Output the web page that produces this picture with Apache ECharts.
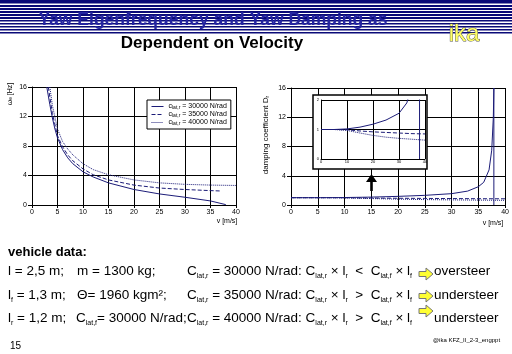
<!DOCTYPE html>
<html>
<head>
<meta charset="utf-8">
<script src="https://cdn.jsdelivr.net/npm/echarts@6/dist/echarts.min.js"></script>
<style>
  html, body { margin: 0; padding: 0; background: #fff; }
  #main { width: 512px; height: 354px; }
</style>
</head>
<body>
<div id="main"></div>
<script>
// yaw eigenfrequency over velocity (left chart)
var freqV30 = [2.9, 3.5, 4, 4.5, 5, 6, 7, 8, 10, 12, 15, 20, 25, 30, 35, 38];
var freq30 = [16, 13.6, 11.8, 10.3, 9.1, 7.5, 6.4, 5.6, 4.5, 3.8, 3.0, 2.1, 1.5, 1.05, 0.55, 0.05];
var freqV35 = [3.2, 4, 5, 6, 7, 8, 10, 12, 15, 20, 25, 30, 35, 37];
var freq35 = [16, 12.4, 9.4, 7.9, 6.8, 6.0, 4.9, 4.1, 3.4, 2.7, 2.3, 2.1, 1.95, 1.9];
var freqV40 = [3.5, 4, 5, 6, 7, 8, 10, 12, 15, 20, 25, 30, 35, 40];
var freq40 = [16, 13.5, 10.3, 8.6, 7.6, 6.8, 5.6, 4.8, 4.1, 3.4, 3.0, 2.8, 2.7, 2.65];

// yaw damping over velocity (right chart + inset)
var dampV30 = [0, 5, 10, 15, 20, 25, 30, 33, 35, 36, 37, 37.5, 37.8, 37.9, 37.9];
var damp30 = [1, 1, 1.02, 1.08, 1.18, 1.32, 1.55, 1.9, 2.5, 3.1, 4.8, 7.5, 12, 16, 0];
var dampV35 = [0, 5, 10, 15, 20, 25, 30, 35, 40];
var damp35 = [1, 1, 0.99, 0.95, 0.92, 0.9, 0.88, 0.86, 0.85];
var dampV40 = [0, 5, 10, 15, 20, 25, 30, 35, 40];
var damp40 = [1, 1, 0.97, 0.88, 0.8, 0.74, 0.7, 0.67, 0.64];

var legendNames = ['30000', '35000', '40000'];

var FONT = 'Liberation Sans';
var NAVY = '#1c1c78';
var TXT = 13.5;

function pairs(xs, ys) {
  return xs.map(function (x, i) { return [x, ys[i]]; });
}

function mkX(idx, interval, labelSize, z) {
  return {
    type: 'value', gridIndex: idx, min: 0, max: 40, interval: interval, z: z || 0,
    axisLine: { lineStyle: { color: '#000', width: 1 } },
    axisTick: { length: idx == 2 ? 0 : 3, lineStyle: { color: '#000' } },
    splitLine: { lineStyle: { color: '#000', width: 1 } },
    axisLabel: { fontSize: labelSize, color: '#000', margin: idx == 2 ? 1 : 4, fontFamily: FONT }
  };
}
function mkY(idx, max, interval, labelSize, z) {
  return {
    type: 'value', gridIndex: idx, min: 0, max: max, interval: interval, z: z || 0,
    axisLine: { show: true, lineStyle: { color: '#000', width: 1 } },
    axisTick: { show: idx != 2, length: 4, lineStyle: { color: '#000' } },
    splitLine: { lineStyle: { color: '#000', width: 1 } },
    axisLabel: { fontSize: labelSize, color: '#000', margin: idx == 2 ? 2 : 5, fontFamily: FONT }
  };
}
function mkLine(name, data, idx, type, z) {
  return {
    name: name, type: 'line', data: data, xAxisIndex: idx, yAxisIndex: idx,
    symbol: 'none', z: z || 2, animation: false,
    lineStyle: { color: NAVY, width: 1, type: type },
    itemStyle: { color: NAVY }
  };
}

// slide text with subscripts
function txt(x, y, text, extra) {
  var st = {
    text: text, fill: '#000', align: 'left', verticalAlign: 'middle',
    fontFamily: FONT, fontSize: TXT,
    rich: {
      n: { fontSize: TXT, fontFamily: FONT, lineHeight: 18, fill: '#000' },
      s: { fontSize: 7, fontFamily: FONT, lineHeight: 9, verticalAlign: 'bottom', fill: '#000' }
    }
  };
  for (var k in extra) st[k] = extra[k];
  return { type: 'text', x: x, y: y, style: st, z: 10 };
}
function yellowArrow(x, y) {
  return {
    type: 'polygon', x: x, y: y, z: 10,
    shape: { points: [[0, 3.5], [7, 3.5], [7, 0], [14, 6], [7, 12], [7, 8.5], [0, 8.5]] },
    style: { fill: '#ffff33', stroke: '#777', lineWidth: 1 }
  };
}

var graphics = [];
// header stripes
graphics.push({ type: 'rect', shape: { x: 0, y: 0, width: 512, height: 3.5 }, style: { fill: '#0a0a78' }, z: 1 });
for (var yy = 5; yy < 33; yy += 3) {
  graphics.push({ type: 'rect', shape: { x: 0, y: yy, width: 512, height: yy < 18 ? 2 : 1.5 }, style: { fill: '#0a0a78' }, z: 1 });
}
graphics.push({ type: 'text', x: 213, y: 20, z: 2, style: { text: 'Yaw Eigenfrequency and Yaw Damping as', fill: '#2424a0', font: 'bold 17.5px "Liberation Sans"', align: 'center', verticalAlign: 'middle' } });
graphics.push({ type: 'text', x: 212, y: 43, z: 2, style: { text: 'Dependent on Velocity', fill: '#000', font: 'bold 17px "Liberation Sans"', align: 'center', verticalAlign: 'middle' } });
graphics.push({ type: 'text', x: 464, y: 34, z: 2, style: { text: 'ika', fill: '#ffff66', stroke: '#555', lineWidth: 1, font: '24px "Liberation Sans"', align: 'center', verticalAlign: 'middle' } });

// axis names
graphics.push({ type: 'text', x: 10, y: 94, rotation: Math.PI / 2, z: 5, style: { text: '{a|ω}{b|e}{a| [Hz]}', align: 'center', verticalAlign: 'middle', rich: { a: { fontSize: 7, fontFamily: FONT }, b: { fontSize: 5, fontFamily: FONT, verticalAlign: 'bottom' } } } });
graphics.push({ type: 'text', x: 227, y: 221, z: 5, style: { text: 'v [m/s]', fontSize: 7, fontFamily: FONT, fill: '#000', align: 'center', verticalAlign: 'middle' } });
graphics.push({ type: 'text', x: 266, y: 135, rotation: Math.PI / 2, z: 5, style: { text: '{a|damping coefficient D}{b|r}', align: 'center', verticalAlign: 'middle', rich: { a: { fontSize: 8, fontFamily: FONT }, b: { fontSize: 5, fontFamily: FONT, verticalAlign: 'bottom' } } } });
graphics.push({ type: 'text', x: 493, y: 223, z: 5, style: { text: 'v [m/s]', fontSize: 7, fontFamily: FONT, fill: '#000', align: 'center', verticalAlign: 'middle' } });

// inset frame
graphics.push({ type: 'rect', z: 3, shape: { x: 313, y: 95, width: 114, height: 74 }, style: { fill: '#fff', stroke: '#000', lineWidth: 1.5 } });
// black arrow pointing to inset
graphics.push({ type: 'polygon', z: 5, shape: { points: [[371.5, 174], [377, 182], [372.8, 182], [372.8, 191], [370.2, 191], [370.2, 182], [366, 182]] }, style: { fill: '#000' } });

// vehicle data text
graphics.push(txt(8, 252, 'vehicle data:', { fontSize: 13, fontWeight: 'bold', rich: null }));
graphics.push(txt(8, 271, '{n|l = 2,5 m;}'));
graphics.push(txt(77, 271, '{n|m = 1300 kg;}'));
graphics.push(txt(187, 271, '{n|C}{s|lat,r}{n| = 30000 N/rad: C}{s|lat,r}{n| × l}{s|r}{n|  <  C}{s|lat,f}{n| × l}{s|f}'));
graphics.push(yellowArrow(419, 268));
graphics.push(txt(434, 271, '{n|oversteer}'));

graphics.push(txt(8, 295, '{n|l}{s|f}{n| = 1,3 m;}'));
graphics.push(txt(77, 295, '{n|Θ= 1960 kgm²;}'));
graphics.push(txt(187, 295, '{n|C}{s|lat,r}{n| = 35000 N/rad: C}{s|lat,r}{n| × l}{s|r}{n|  >  C}{s|lat,f}{n| × l}{s|f}'));
graphics.push(yellowArrow(419, 290));
graphics.push(txt(434, 295, '{n|understeer}'));

graphics.push(txt(8, 318, '{n|l}{s|r}{n| = 1,2 m;}'));
graphics.push(txt(76, 318, '{n|C}{s|lat,f}{n|= 30000 N/rad;}'));
graphics.push(txt(187, 318, '{n|C}{s|lat,r}{n| = 40000 N/rad: C}{s|lat,r}{n| × l}{s|r}{n|  >  C}{s|lat,f}{n| × l}{s|f}'));
graphics.push(yellowArrow(419, 305));
graphics.push(txt(434, 318, '{n|understeer}'));

graphics.push(txt(10, 346, '15', { fontSize: 10, rich: null }));
graphics.push(txt(433, 340, '@ika KFZ_II_2-3_engppt', { fontSize: 6, rich: null }));

var chart = echarts.init(document.getElementById('main'));
chart.setOption({
  animation: false,
  backgroundColor: '#fff',
  grid: [
    { left: 32, top: 87, width: 204, height: 118 },
    { left: 291, top: 88, width: 215, height: 117 },
    { left: 321, top: 100, width: 104, height: 59 }
  ],
  xAxis: [mkX(0, 5, 7), mkX(1, 5, 7), mkX(2, 10, 4, 4)],
  yAxis: [mkY(0, 16, 4, 7), mkY(1, 16, 4, 7), mkY(2, 2, 1, 4, 4)],
  legend: {
    data: legendNames, left: 147, top: 100, orient: 'vertical',
    backgroundColor: '#fff', borderColor: '#000', borderWidth: 1,
    padding: [3, 4, 3, 4], itemWidth: 12, itemHeight: 6, itemGap: 1,
    itemStyle: { opacity: 0 },
    lineStyle: { width: 1 },
    textStyle: {
      fontSize: 7, fontFamily: FONT, color: '#000',
      rich: {
        a: { fontSize: 7, fontFamily: FONT },
        b: { fontSize: 5, fontFamily: FONT, verticalAlign: 'bottom' }
      }
    },
    formatter: function (name) { return '{a|c}{b|lat,r}{a| = ' + name + ' N/rad}'; }
  },
  series: [
    mkLine('30000', pairs(freqV30, freq30), 0, 'solid'),
    mkLine('35000', pairs(freqV35, freq35), 0, 'dashed'),
    mkLine('40000', pairs(freqV40, freq40), 0, 'dotted'),
    mkLine('d30000', pairs(dampV30, damp30), 1, 'solid'),
    mkLine('d35000', pairs(dampV35, damp35), 1, 'dashed'),
    mkLine('d40000', pairs(dampV40, damp40), 1, 'dotted'),
    mkLine('i30000', pairs(dampV30, damp30), 2, 'solid', 5),
    mkLine('i35000', pairs(dampV35, damp35), 2, 'dashed', 5),
    mkLine('i40000', pairs(dampV40, damp40), 2, 'dotted', 5)
  ],
  graphic: graphics
});
</script>
</body>
</html>
